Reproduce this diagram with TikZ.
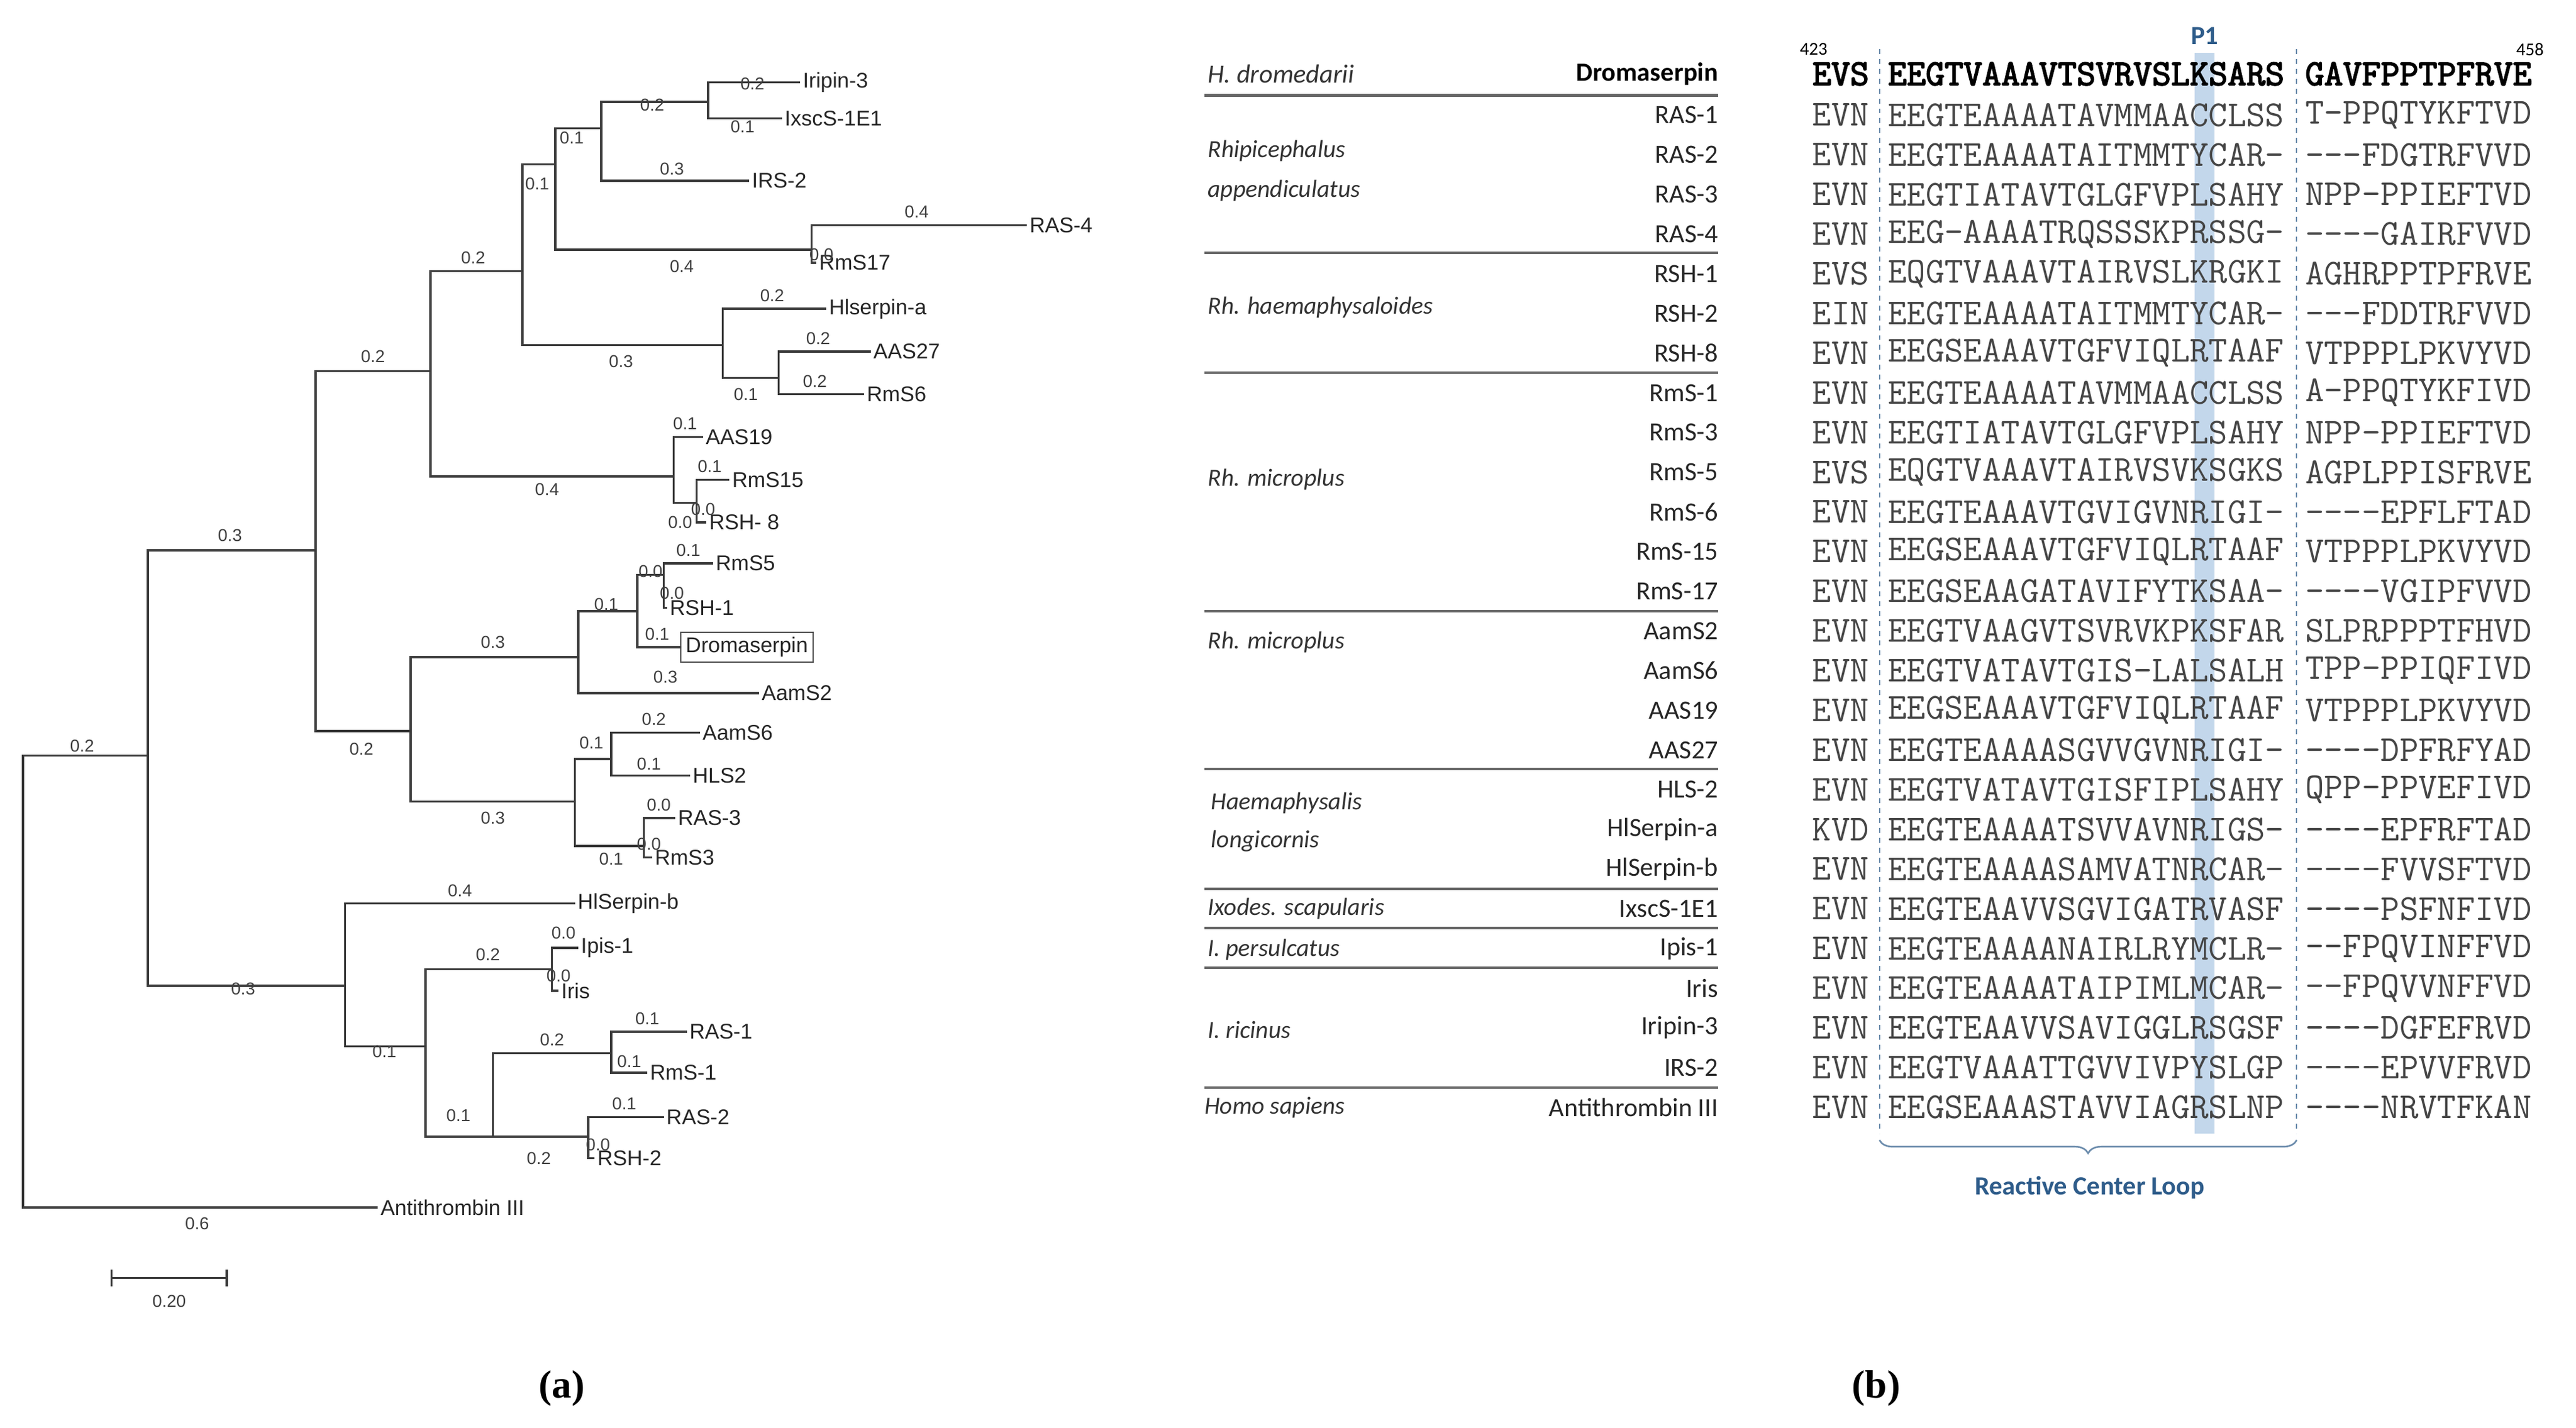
\documentclass[tikz,border=0pt]{standalone}
\usepackage{fontspec}
\setmainfont{Liberation Sans}
\newfontfamily\calfnt{Carlito}
\newfontfamily\capfnt{Liberation Serif}
\newfontfamily\monob{Latin Modern Mono}[FakeBold=3]
\usetikzlibrary{decorations.pathreplacing}
\definecolor{tree}{HTML}{3A3A3A}
\definecolor{seqc}{HTML}{454545}
\definecolor{loopblue}{HTML}{2E5C8A}
\definecolor{hl}{HTML}{B4CDE6}
\tikzset{
 br/.style={draw=tree,line width=1.3pt},
 leaf/.style={anchor=west,inner sep=1.5pt,font=\fontsize{13}{13}\selectfont,text=black!85},
 bl/.style={inner sep=0pt,font=\fontsize{10.5}{10.5}\selectfont,text=black!75},
 sp/.style={anchor=west,inner sep=0pt,font=\calfnt\itshape\fontsize{15}{15}\selectfont,text=black!80},
 nm/.style={anchor=east,inner sep=0pt,font=\calfnt\fontsize{16}{16}\selectfont,text=black!85},
 sq/.style={anchor=west,inner sep=0pt,font=\ttfamily\fontsize{22.3}{22.3}\selectfont,text=seqc},
 sqb/.style={anchor=west,inner sep=0pt,font=\monob\fontsize{22.3}{22.3}\selectfont,text=black},
 sep/.style={draw=black!60,line width=1.6pt},
 capt/.style={font=\capfnt\bfseries\fontsize{24}{24}\selectfont}
}
\begin{document}
\begin{tikzpicture}[x=1pt,y=-1pt]
\useasboundingbox (0,0) rectangle (1568,869);
\fill[white] (0,0) rectangle (1568,869);
% ---------- tree coordinates ----------
\coordinate (root) at (14,600);
\coordinate (A) at (90,460);
\coordinate (B) at (192,335);
\coordinate (C) at (262,226);
\coordinate (D) at (318,165);
\coordinate (E) at (338,100);
\coordinate (F) at (366,78);
\coordinate (G) at (431,62);
\coordinate (H) at (494,152);
\coordinate (I) at (440,210);
\coordinate (J) at (474,230);
\coordinate (K) at (410,290);
\coordinate (L) at (424,306);
\coordinate (M) at (250,445);
\coordinate (N) at (352,400);
\coordinate (O) at (388,372);
\coordinate (P) at (404,350);
\coordinate (Q) at (350,488);
\coordinate (R) at (372,462);
\coordinate (S) at (392,515);
\coordinate (T) at (210,600);
\coordinate (U) at (259,637);
\coordinate (V) at (336,590);
\coordinate (W) at (300,692);
\coordinate (X) at (372,641);
\coordinate (Y) at (358,692);
% leaves
\coordinate (lIri) at (487,50);
\coordinate (lIx) at (476,72);
\coordinate (lIRS) at (456,110);
\coordinate (lRAS4) at (625,137);
\coordinate (lRmS17) at (497,160);
\coordinate (lHla) at (503,188);
\coordinate (lAAS27) at (530,214);
\coordinate (lRmS6) at (526,240);
\coordinate (lAAS19) at (428,266);
\coordinate (lRmS15) at (444,292);
\coordinate (lRSH8) at (430,318);
\coordinate (lRmS5) at (434,343);
\coordinate (lRSH1) at (406,370);
\coordinate (lDro) at (414,394);
\coordinate (lAamS2) at (462,422);
\coordinate (lAamS6) at (426,446);
\coordinate (lHLS2) at (420,472);
\coordinate (lRAS3) at (411,498);
\coordinate (lRmS3) at (397,522);
\coordinate (lHlb) at (350,550);
\coordinate (lIpis) at (352,577);
\coordinate (lIris) at (340,603);
\coordinate (lRAS1) at (418,628);
\coordinate (lRmS1) at (394,653);
\coordinate (lRAS2) at (404,680);
\coordinate (lRSH2) at (362,705);
\coordinate (lAT) at (230,735);
% branches
\draw[br] (root) |- (A); \draw[br] (root) |- (lAT);
\draw[br] (A) |- (B); \draw[br] (A) |- (T);
\draw[br] (B) |- (C); \draw[br] (B) |- (M);
\draw[br] (C) |- (D); \draw[br] (C) |- (K);
\draw[br] (D) |- (E); \draw[br] (D) |- (I);
\draw[br] (E) |- (F); \draw[br] (E) |- (H);
\draw[br] (F) |- (G); \draw[br] (F) |- (lIRS);
\draw[br] (G) |- (lIri); \draw[br] (G) |- (lIx);
\draw[br] (H) |- (lRAS4); \draw[br] (H) |- (lRmS17);
\draw[br] (I) |- (lHla); \draw[br] (I) |- (J);
\draw[br] (J) |- (lAAS27); \draw[br] (J) |- (lRmS6);
\draw[br] (K) |- (lAAS19); \draw[br] (K) |- (L);
\draw[br] (L) |- (lRmS15); \draw[br] (L) |- (lRSH8);
\draw[br] (M) |- (N); \draw[br] (M) |- (Q);
\draw[br] (N) |- (O); \draw[br] (N) |- (lAamS2);
\draw[br] (O) |- (P); \draw[br] (O) |- (lDro);
\draw[br] (P) |- (lRmS5); \draw[br] (P) |- (lRSH1);
\draw[br] (Q) |- (R); \draw[br] (Q) |- (S);
\draw[br] (R) |- (lAamS6); \draw[br] (R) |- (lHLS2);
\draw[br] (S) |- (lRAS3); \draw[br] (S) |- (lRmS3);
\draw[br] (T) |- (lHlb); \draw[br] (T) |- (U);
\draw[br] (U) |- (V); \draw[br] (U) |- (W);
\draw[br] (V) |- (lIpis); \draw[br] (V) |- (lIris);
\draw[br] (W) |- (X); \draw[br] (W) |- (Y);
\draw[br] (X) |- (lRAS1); \draw[br] (X) |- (lRmS1);
\draw[br] (Y) |- (lRAS2); \draw[br] (Y) |- (lRSH2);
% leaf labels
\node[leaf] (nIri) at (lIri) {Iripin-3};
\node[leaf] (nIx) at (lIx) {IxscS-1E1};
\node[leaf] (nIRS) at (lIRS) {IRS-2};
\node[leaf] (nRAS4) at (lRAS4) {RAS-4};
\node[leaf] (nRmS17) at (lRmS17) {RmS17};
\node[leaf] (nHla) at (lHla) {Hlserpin-a};
\node[leaf] (nAAS27) at (lAAS27) {AAS27};
\node[leaf] (nRmS6) at (lRmS6) {RmS6};
\node[leaf] (nAAS19) at (lAAS19) {AAS19};
\node[leaf] (nRmS15) at (lRmS15) {RmS15};
\node[leaf] (nRSH8) at (lRSH8) {RSH- 8};
\node[leaf] (nRmS5) at (lRmS5) {RmS5};
\node[leaf] (nRSH1) at (lRSH1) {RSH-1};
\node[leaf,draw=black!70,line width=0.8pt,inner sep=3pt] (nDro) at (lDro) {Dromaserpin};
\node[leaf] (nAamS2) at (lAamS2) {AamS2};
\node[leaf] (nAamS6) at (lAamS6) {AamS6};
\node[leaf] (nHLS2) at (lHLS2) {HLS2};
\node[leaf] (nRAS3) at (lRAS3) {RAS-3};
\node[leaf] (nRmS3) at (lRmS3) {RmS3};
\node[leaf] (nHlb) at (lHlb) {HlSerpin-b};
\node[leaf] (nIpis) at (lIpis) {Ipis-1};
\node[leaf] (nIris) at (lIris) {Iris};
\node[leaf] (nRAS1) at (lRAS1) {RAS-1};
\node[leaf] (nRmS1) at (lRmS1) {RmS-1};
\node[leaf] (nRAS2) at (lRAS2) {RAS-2};
\node[leaf] (nRSH2) at (lRSH2) {RSH-2};
\node[leaf] (nAT) at (lAT) {Antithrombin III};
% branch length labels
\foreach \x/\y/\t [count=\i] in {
 50/454/0.2, 120/745/0.6, 140/326/0.3, 148/602/0.3, 227/217/0.2, 220/456/0.2,
 288/157/0.2, 333/298/0.4, 327/112/0.1, 378/220/0.3, 348/84/0.1, 415/162/0.4,
 397/64/0.2, 409/103/0.3, 458/51/0.2, 452/77/0.1, 558/129/0.4, 500/155/0.0,
 470/180/0.2, 454/240/0.1, 498/206/0.2, 496/232/0.2, 417/258/0.1, 414/318/0.0,
 432/284/0.1, 428/310/0.0, 300/391/0.3, 300/498/0.3, 369/368/0.1, 405/412/0.3,
 396/348/0.0, 400/386/0.1, 419/335/0.1, 409/361/0.0, 360/452/0.1, 372/523/0.1,
 398/438/0.2, 395/465/0.1, 401/490/0.0, 395/514/0.0, 280/542/0.4, 234/640/0.1,
 297/581/0.2, 279/679/0.1, 343/568/0.0, 340/594/0.0, 336/633/0.2, 328/705/0.2,
 394/620/0.1, 383/646/0.1, 380/672/0.1, 364/697/0.0}
 \node[bl] (bl\i) at (\x,\y) {\t};
% scale bar
\coordinate (sb1) at (68,778); \coordinate (sb2) at (138,778);
\draw[tree,line width=1.2pt] (sb1) -- (sb2);
\draw[tree,line width=1.2pt] ([yshift=-5pt]sb1) -- ([yshift=5pt]sb1);
\draw[tree,line width=1.2pt] ([yshift=-5pt]sb2) -- ([yshift=5pt]sb2);
\node[bl] (sbl) at (103,792) {0.20};
\node[capt] (capa) at (342,845) {(a)};
\node[capt] (capb) at (1142,845) {(b)};
% ---------- alignment ----------
\fill[hl,opacity=0.8] (1336,32) rectangle (1348,690);
\draw[loopblue!70,dashed,line width=0.8pt] (1144,30) -- (1144,690);
\draw[loopblue!70,dashed,line width=0.8pt] (1398,30) -- (1398,690);
\node[font=\calfnt\bfseries\fontsize{16}{16}\selectfont,text=loopblue] (p1) at (1342,22) {P1};
\node[font=\calfnt\fontsize{11}{11}\selectfont] (n423) at (1104,30) {423};
\node[font=\calfnt\fontsize{11}{11}\selectfont] (n458) at (1540,30) {458};
% header row
\node[sp,font=\calfnt\itshape\fontsize{16}{16}\selectfont] (hd) at (735,45) {H. dromedarii};
\node[nm,font=\calfnt\bfseries\fontsize{16}{16}\selectfont,text=black] (dro) at (1046,45) {Dromaserpin};
\node[sqb] (h1) at (1103,45) {EVS};
\node[sqb] (h2) at (1149,45) {EEGTVAAAVTSVRVSLKSARS};
\node[sqb] (h3) at (1403,45) {GAVFPPTPFRVE};
\foreach \n/\a/\b/\c [count=\i from 0] in {
 RAS-1/EVN/EEGTEAAAATAVMMAACCLSS/T-PPQTYKFTVD,
 RAS-2/EVN/EEGTEAAAATAITMMTYCAR-/---FDGTRFVVD,
 RAS-3/EVN/EEGTIATAVTGLGFVPLSAHY/NPP-PPIEFTVD,
 RAS-4/EVN/EEG-AAAATRQSSSKPRSSG-/----GAIRFVVD,
 RSH-1/EVS/EQGTVAAAVTAIRVSLKRGKI/AGHRPPTPFRVE,
 RSH-2/EIN/EEGTEAAAATAITMMTYCAR-/---FDDTRFVVD,
 RSH-8/EVN/EEGSEAAAVTGFVIQLRTAAF/VTPPPLPKVYVD,
 RmS-1/EVN/EEGTEAAAATAVMMAACCLSS/A-PPQTYKFIVD,
 RmS-3/EVN/EEGTIATAVTGLGFVPLSAHY/NPP-PPIEFTVD,
 RmS-5/EVS/EQGTVAAAVTAIRVSVKSGKS/AGPLPPISFRVE,
 RmS-6/EVN/EEGTEAAAVTGVIGVNRIGI-/----EPFLFTAD,
 RmS-15/EVN/EEGSEAAAVTGFVIQLRTAAF/VTPPPLPKVYVD,
 RmS-17/EVN/EEGSEAAGATAVIFYTKSAA-/----VGIPFVVD,
 AamS2/EVN/EEGTVAAGVTSVRVKPKSFAR/SLPRPPPTFHVD,
 AamS6/EVN/EEGTVATAVTGIS-LALSALH/TPP-PPIQFIVD,
 AAS19/EVN/EEGSEAAAVTGFVIQLRTAAF/VTPPPLPKVYVD,
 AAS27/EVN/EEGTEAAAASGVVGVNRIGI-/----DPFRFYAD,
 HLS-2/EVN/EEGTVATAVTGISFIPLSAHY/QPP-PPVEFIVD,
 HlSerpin-a/KVD/EEGTEAAAATSVVAVNRIGS-/----EPFRFTAD,
 HlSerpin-b/EVN/EEGTEAAAASAMVATNRCAR-/----FVVSFTVD,
 IxscS-1E1/EVN/EEGTEAAVVSGVIGATRVASF/----PSFNFIVD,
 Ipis-1/EVN/EEGTEAAAANAIRLRYMCLR-/--FPQVINFFVD,
 Iris/EVN/EEGTEAAAATAIPIMLMCAR-/--FPQVVNFFVD,
 Iripin-3/EVN/EEGTEAAVVSAVIGGLRSGSF/----DGFEFRVD,
 IRS-2/EVN/EEGTVAAATTGVVIVPYSLGP/----EPVVFRVD,
 Antithrombin III/EVN/EEGSEAAASTAVVIAGRSLNP/----NRVTFKAN}
 {\pgfmathsetmacro{\yy}{70+24.16*\i}
  \node[nm] (name\i) at (1046,\yy) {\n};
  \node[sq] (sa\i) at (1103,\yy) {\a};
  \node[sq] (sb\i) at (1149,\yy) {\b};
  \node[sq] (sc\i) at (1403,\yy) {\c};}
% separators
\foreach \y in {58,154,227,372,468,541,565,589,662}
 \draw[sep] (733,\y) -- (1046,\y);
% species
\node[sp] (s1) at (735,92) {Rhipicephalus};
\node[sp] (s2) at (735,116) {appendiculatus};
\node[sp] (s3) at (735,187) {Rh. haemaphysaloides};
\node[sp] (s4) at (735,292) {Rh. microplus};
\node[sp] (s5) at (735,391) {Rh. microplus};
\node[sp] (s6) at (737,489) {Haemaphysalis};
\node[sp] (s7) at (737,512) {longicornis};
\node[sp] (s8) at (735,553) {Ixodes. scapularis};
\node[sp] (s9) at (735,578) {I. persulcatus};
\node[sp] (s10) at (735,627) {I. ricinus};
\node[sp] (s11) at (733,674) {Homo sapiens};
% brace
\coordinate (br1) at (1144,694); \coordinate (br2) at (1398,694);
\draw[loopblue!70,line width=1pt,decorate,decoration={brace,mirror,amplitude=8pt}] (br1) -- (br2);
\node[font=\calfnt\bfseries\fontsize{16}{16}\selectfont,text=loopblue] (rcl) at (1272,723) {Reactive Center Loop};
\end{tikzpicture}
\end{document}
